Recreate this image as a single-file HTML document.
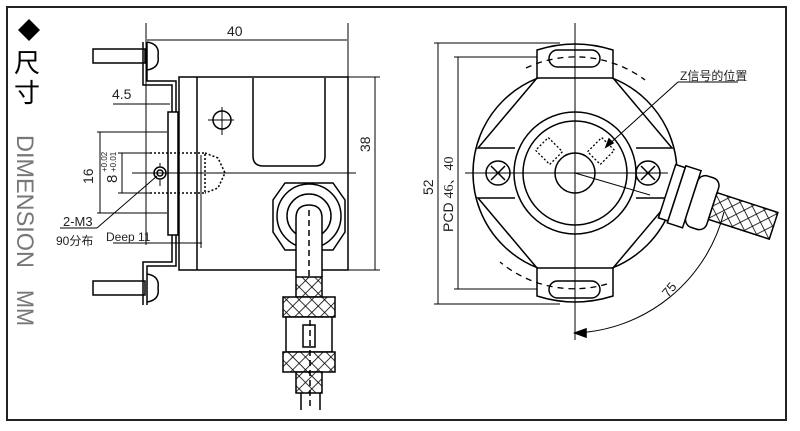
<!DOCTYPE html>
<html><head><meta charset="utf-8"><style>
html,body{margin:0;padding:0;background:#fff;}
svg{display:block;}
text{font-family:"Liberation Sans","Noto Sans CJK SC",sans-serif;}
</style></head><body>
<svg width="800" height="431" viewBox="0 0 800 431" xmlns="http://www.w3.org/2000/svg">
<defs>
<pattern id="h" width="9" height="9" patternUnits="userSpaceOnUse" patternTransform="rotate(45)">
<rect width="9" height="9" fill="#fff"/><line x1="0" y1="0" x2="0" y2="9" stroke="#000" stroke-width="1.6"/><line x1="0" y1="0" x2="9" y2="0" stroke="#000" stroke-width="1.6"/>
</pattern>
</defs>
<rect x="7" y="7" width="779" height="413" fill="none" stroke="#222" stroke-width="2"/>
<polygon points="29,19 40,30 29,41 18,30" fill="#000"/>
<text x="14" y="72" font-size="26" fill="#000">尺</text>
<text x="14" y="102" font-size="26" fill="#000">寸</text>
<g fill="#777" font-size="24">
<text transform="translate(17,135) rotate(90)" textLength="133" lengthAdjust="spacingAndGlyphs">DIMENSION</text>
<text transform="translate(17,290) rotate(90)" textLength="36" lengthAdjust="spacingAndGlyphs">MM</text>
</g>
<g stroke="#000" fill="none" stroke-width="1.5">
<line x1="146" y1="23" x2="146" y2="245" stroke-width="1"/>
<line x1="348" y1="23" x2="348" y2="78" stroke-width="1"/>
<line x1="147" y1="40" x2="347" y2="40" stroke-width="1"/>
<rect x="179" y="77" width="169" height="193"/>
<line x1="197" y1="77" x2="197" y2="270"/>
<path d="M253,78 V156 Q253,166 263,166 H315 Q325,166 325,156 V78"/>
<line x1="375" y1="77" x2="375" y2="270" stroke-width="1"/>
<line x1="348" y1="77" x2="380" y2="77" stroke-width="1"/>
<line x1="348" y1="270" x2="380" y2="270" stroke-width="1"/>
<path d="M143,42 V85 H172 V112 M147,42 V81 H176 V112"/>
<rect x="168" y="112" width="10" height="123"/>
<path d="M172,235 V262 H143 V305 M176,235 V266 H147 V305"/>
<rect x="93" y="49" width="52" height="14"/>
<path d="M147,42 Q160,44 158,56 Q160,68 147,70"/>
<rect x="93" y="281" width="52" height="14"/>
<path d="M147,274 Q160,276 158,288 Q160,300 147,302"/>
<line x1="113" y1="104" x2="170" y2="104" stroke-width="1"/>
<line x1="100" y1="132" x2="100" y2="213" stroke-width="1"/>
<line x1="97" y1="132" x2="167" y2="132" stroke-width="1"/>
<line x1="97" y1="213" x2="167" y2="213" stroke-width="1"/>
<line x1="122" y1="153" x2="122" y2="193" stroke-width="1"/>
<line x1="118" y1="153" x2="150" y2="153" stroke-width="1"/>
<line x1="118" y1="193" x2="150" y2="193" stroke-width="1"/>
<path d="M150,153 H205 V193 H150 M205,153 L218,158 L225,173 L218,188 L205,193" stroke-dasharray="2,2"/>
<line x1="132" y1="173" x2="356" y2="173" stroke-width="1"/>
<circle cx="160" cy="173" r="6"/><circle cx="160" cy="173" r="3"/>
<line x1="160" y1="163" x2="160" y2="166" stroke-width="1"/><line x1="160" y1="180" x2="160" y2="186" stroke-width="1"/>
<line x1="113" y1="243" x2="202" y2="243" stroke-width="1"/>
<line x1="201" y1="155" x2="201" y2="248" stroke-width="1"/>
<line x1="60" y1="228" x2="97" y2="228" stroke-width="1"/>
<line x1="97" y1="228" x2="157" y2="176" stroke-width="1"/>
<circle cx="222" cy="120" r="9"/>
<line x1="208" y1="120" x2="234" y2="120" stroke-width="1"/><line x1="222" y1="107" x2="222" y2="135" stroke-width="1"/>
<path d="M285,183 H333 L345,200 V232 L333,250 H285 L273,232 V200 Z" stroke-width="1.5"/>
<circle cx="309" cy="216" r="32"/>
<circle cx="309" cy="216" r="22"/>
<path d="M296,277 V218 Q296,205 309,205 Q322,205 322,218 V277" fill="#fff"/>
<line x1="309" y1="210" x2="309" y2="277" stroke-dasharray="6,4"/>
<rect x="296" y="277" width="26" height="20" fill="url(#h)"/>
<rect x="283" y="297" width="52" height="20" fill="url(#h)"/>
<rect x="286" y="317" width="46" height="35" fill="#fff"/>
<rect x="303" y="325" width="12" height="22"/>
<rect x="283" y="352" width="52" height="20" fill="url(#h)"/>
<rect x="296" y="372" width="26" height="21" fill="url(#h)"/>
<path d="M301,393 V410 M320,393 V410"/>
<line x1="310" y1="320" x2="310" y2="410" stroke-dasharray="6,4"/>
</g>
<g fill="#222">
<text x="227" y="36" font-size="14">40</text>
<text x="112" y="99" font-size="14">4.5</text>
<text transform="translate(370,152) rotate(-90)" font-size="14" font-family="Liberation Serif">38</text>
<text transform="translate(93,184) rotate(-90)" font-size="14" font-family="Liberation Serif">16</text>
<text transform="translate(117,183) rotate(-90)" font-size="15">8</text>
<text transform="translate(107,172) rotate(-90)" font-size="8">+0.02</text>
<text transform="translate(116,172) rotate(-90)" font-size="8">+0.01</text>
<text x="63" y="226" font-size="13">2-M3</text>
<text x="56" y="245" font-size="12" font-family="Liberation Serif,Noto Serif CJK SC,serif">90分布</text>
<text x="106" y="241" font-size="12">Deep 11</text>
</g>
<g stroke="#000" fill="none" stroke-width="1.5">
<line x1="438" y1="43" x2="438" y2="304" stroke-width="1"/>
<line x1="434" y1="43" x2="560" y2="43" stroke-width="1"/>
<line x1="434" y1="304" x2="560" y2="304" stroke-width="1"/>
<line x1="458" y1="57" x2="458" y2="289" stroke-width="1"/>
<line x1="454" y1="57" x2="550" y2="57" stroke-width="1"/>
<line x1="454" y1="289" x2="550" y2="289" stroke-width="1"/>
<circle cx="575" cy="173" r="102"/>
<path d="M537,78 L478,148 H515 M613,78 L672,148 H636 M537,268 L478,198 H515 M613,268 L672,198 H636"/>
<path d="M537,78 V50 Q575,38 613,50 V78 Z" fill="#fff"/>
<rect x="549" y="50" width="51" height="17" rx="8.5"/>
<path d="M537,268 V296 Q575,308 613,296 V268 Z" fill="#fff"/>
<rect x="549" y="281" width="51" height="17" rx="8.5"/>
<path d="M526,68 A116,116 0 0 1 645,80" stroke-dasharray="6,5" stroke-width="1.3"/>
<path d="M607,284 A116,116 0 0 1 500,262" stroke-dasharray="6,5" stroke-width="1.3"/>
<circle cx="575" cy="173" r="61"/>
<circle cx="575" cy="173" r="52"/>
<circle cx="575" cy="173" r="20"/>
<g stroke-dasharray="2,2" stroke-width="1.3">
<rect x="-10" y="-9" width="20" height="18" transform="translate(549,151) rotate(45)"/>
<rect x="-10" y="-9" width="20" height="18" transform="translate(601,151) rotate(-45)"/>
</g>
<line x1="575" y1="23" x2="575" y2="340" stroke-width="1"/>
<line x1="465" y1="173" x2="668" y2="173" stroke-width="1"/>
<circle cx="498" cy="173" r="12"/><path d="M491,166 L505,180 M505,166 L491,180"/>
<circle cx="648" cy="173" r="12"/><path d="M641,166 L655,180 M655,166 L641,180"/>
<line x1="575" y1="173" x2="650" y2="195" stroke-width="1"/>
<line x1="678" y1="82" x2="738" y2="82" stroke-width="1"/>
<line x1="678" y1="82" x2="606" y2="147" stroke-width="1"/>
<path d="M606,147 L609,139 L613,143 Z" fill="#000"/>
<g transform="translate(688,198) rotate(18)">
<rect x="-22" y="-28" width="10" height="56" fill="#fff"/>
<rect x="-12" y="-30" width="16" height="60" fill="#fff"/>
<rect x="4" y="-27" width="22" height="54" rx="8" fill="#fff"/>
<rect x="26" y="-14" width="64" height="28" fill="url(#h)"/>
</g>
<path d="M575,333 A160,160 0 0 0 724,212" stroke-width="1"/>
<path d="M575,333 L586,329 L586,337 Z" fill="#000"/>
</g>
<g fill="#222">
<text transform="translate(433,195) rotate(-90)" font-size="14" font-family="Liberation Serif">52</text>
<text transform="translate(453,232) rotate(-90)" font-size="14">PCD <tspan font-family="Liberation Serif,Noto Serif CJK SC,serif">46、40</tspan></text>
<text x="680" y="80" font-size="12">Z信号的位置</text>
<text transform="translate(668,298) rotate(-50)" font-size="13" font-family="Liberation Serif">75</text>
</g>
</svg>
</body></html>
